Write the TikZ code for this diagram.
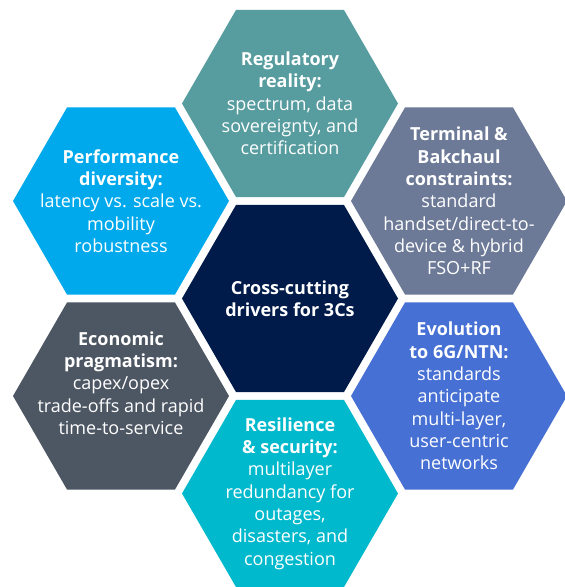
\documentclass[tikz,border=0pt]{standalone}
\usepackage{fontspec}
\setmainfont{Open Sans}
\definecolor{hexnavy}{HTML}{001A4A}
\definecolor{hexteal}{HTML}{579C9F}
\definecolor{hexsky}{HTML}{00A9EC}
\definecolor{hexslate}{HTML}{6D7A97}
\definecolor{hexblue}{HTML}{4670D4}
\definecolor{hexcyan}{HTML}{00B9CC}
\definecolor{hexgrey}{HTML}{4D5663}
\tikzset{
  hextext/.style={text=white, align=center, inner sep=0pt,
    font=\fontsize{18}{22.3}\selectfont}
}
\begin{document}
\begin{tikzpicture}[x=1pt,y=-1pt]
              \pgfmathsetmacro{\R}{108};
              \pgfmathsetmacro{\h}{\R * sin(60)};
              \useasboundingbox (0,0) rectangle (565,587);
              \coordinate (C) at (290,298.5);
              \coordinate (T) at (290,103.5);
              \coordinate (UR) at (459,201);
              \coordinate (LR) at (459,396);
              \coordinate (B) at (290,493.5);
              \coordinate (LL) at (121,396);
              \coordinate (UL) at (121,201);
              \foreach \P/\col in {C/hexnavy, T/hexteal, UR/hexslate, LR/hexblue, B/hexcyan, LL/hexgrey, UL/hexsky}
                \fill[\col] (\P) ++(\R,0) -- ++(-\R/2,\h) -- ++(-\R,0) -- ++(-\R/2,-\h) -- ++(\R/2,-\h) -- ++(\R,0) -- cycle;
              \node[hextext] (center) at (C) {\textbf{Cross-cutting}\\\textbf{drivers for 3Cs}};
              \node[hextext] (regulatory) at (T) {\textbf{Regulatory}\\\textbf{reality:}\\spectrum, data\\sovereignty, and\\certification};
              \node[hextext] (terminal) at (UR) {\textbf{Terminal \&}\\\textbf{Bakchaul}\\\textbf{constraints:}\\standard\\handset/direct-to-\\device \& hybrid\\FSO+RF};
              \node[hextext] (evolution) at (LR) {\textbf{Evolution}\\\textbf{to 6G/NTN:}\\standards\\anticipate\\multi-layer,\\user-centric\\networks};
              \node[hextext] (resilience) at (B) {\textbf{Resilience}\\\textbf{\& security:}\\multilayer\\redundancy for\\outages,\\disasters, and\\congestion};
              \node[hextext, yshift=13pt] (economic) at (LL) {\textbf{Economic}\\\textbf{pragmatism:}\\capex/opex\\trade-offs and rapid\\time-to-service};
              \node[hextext] (performance) at (UL) {\textbf{Performance}\\\textbf{diversity:}\\latency vs. scale vs.\\mobility\\robustness};
        \end{tikzpicture}
\end{document}
